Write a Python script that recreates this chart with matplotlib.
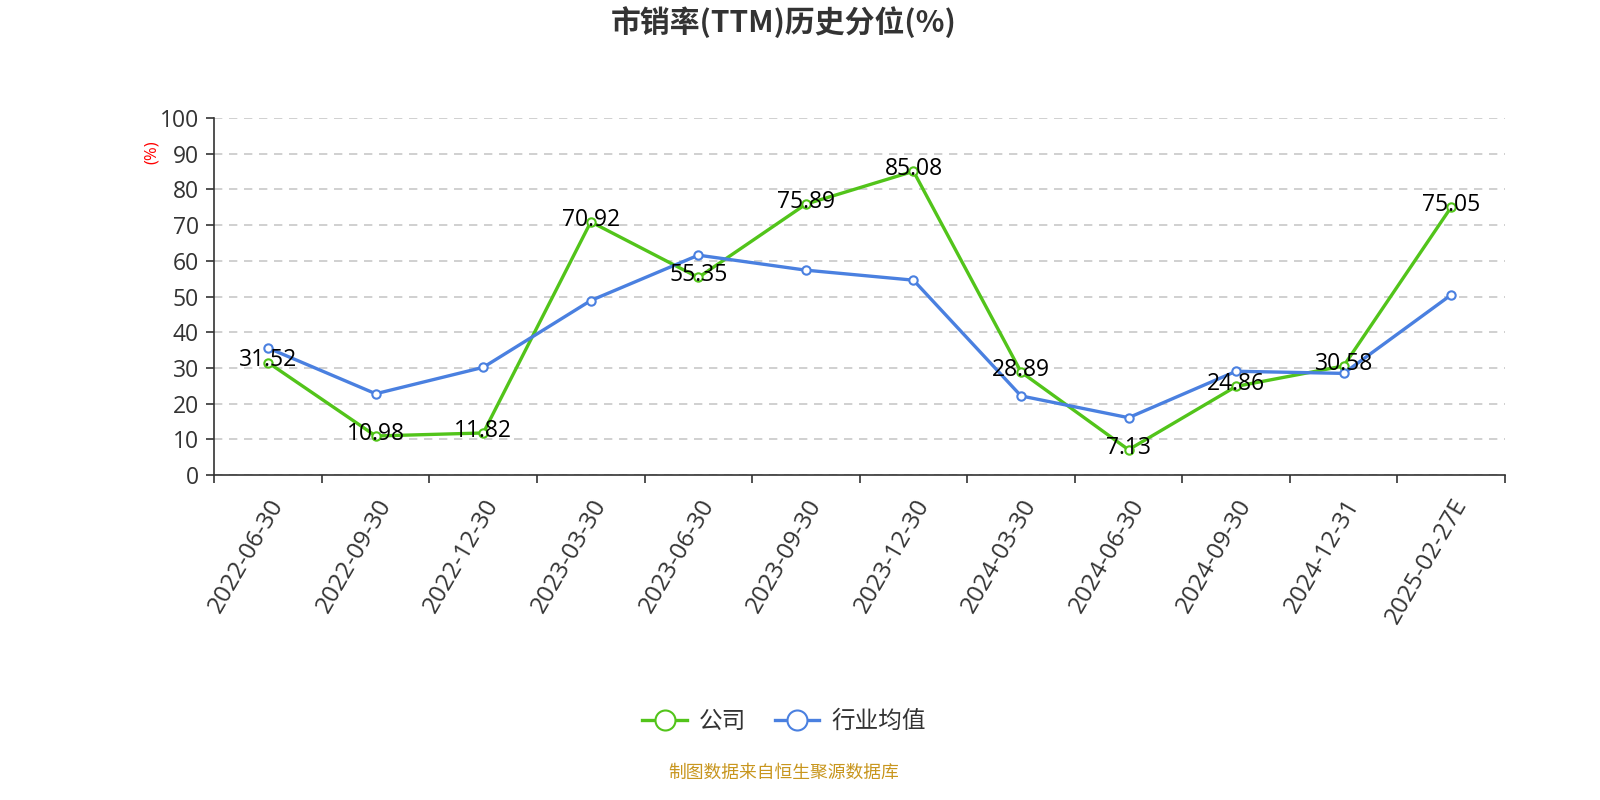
import matplotlib
matplotlib.use("Agg")
import matplotlib.pyplot as plt
import numpy as np

plt.rcParams['font.family'] = ['Open Sans', 'Noto Sans CJK SC', 'DejaVu Sans']
CJK = ['Noto Sans CJK SC', 'DejaVu Sans']

categories = ["2022-06-30", "2022-09-30", "2022-12-30", "2023-03-30", "2023-06-30",
              "2023-09-30", "2023-12-30", "2024-03-30", "2024-06-30", "2024-09-30",
              "2024-12-31", "2025-02-27E"]
company = [31.52, 10.98, 11.82, 70.92, 55.35, 75.89, 85.08, 28.89, 7.13, 24.86, 30.58, 75.05]
industry = [35.6, 22.8, 30.2, 48.9, 61.6, 57.4, 54.6, 22.2, 16.1, 29.1, 28.5, 50.5]
yticks = [0, 10, 20, 30, 40, 50, 60, 70, 80, 90, 100]

green = '#52c41a'
blue = '#4a80e0'
axis_c = '#333333'

fig = plt.figure(figsize=(16, 8), dpi=100)
ax = fig.add_axes([0.134, 0.406, 0.8066, 0.4465])
x = np.arange(len(categories))

ax.plot(x, company, color=green, lw=2.4, marker='o', ms=6, mfc='white',
        mec=green, mew=1.5, zorder=3, label='公司')
ax.plot(x, industry, color=blue, lw=2.4, marker='o', ms=6, mfc='white',
        mec=blue, mew=1.5, zorder=3, label='行业均值')

for xi, v in zip(x, company):
    ax.text(xi, v + 0.6, f"{v:.2f}", ha='center', va='center', fontsize=16.5,
            color='black', zorder=4)

ax.set_xlim(-0.5, len(categories) - 0.5)
ax.set_ylim(0, 100)
ax.set_yticks(yticks)
ax.set_yticklabels([str(t) for t in yticks], fontsize=16.5, color=axis_c)
ax.set_xticks(np.arange(-0.5, len(categories), 1.0))
ax.set_xticklabels([])
ax.set_xticks(x, minor=True)
ax.set_xticklabels(categories, minor=True, rotation=60, ha='right',
                   rotation_mode='anchor', fontsize=17.5, color=axis_c)
ax.tick_params(axis='x', which='minor', length=0, pad=14)
ax.tick_params(axis='x', which='major', length=6, width=1.2, color=axis_c)
ax.tick_params(axis='y', length=6, width=1.2, color=axis_c, pad=5)

ax.grid(axis='y', linestyle=(0, (5, 4)), color='#c8c8c8', lw=1.2)
ax.set_axisbelow(True)
for s in ['top', 'right']:
    ax.spines[s].set_visible(False)
for s in ['left', 'bottom']:
    ax.spines[s].set_color(axis_c)
    ax.spines[s].set_linewidth(1.2)

fig.text(0.095, 0.81, '(%)', color='red', fontsize=12, rotation=90,
         ha='center', va='center')

fig.text(0.49, 0.972, '市销率(TTM)历史分位(%)', ha='center', va='center',
         fontsize=21.5, fontweight='bold', color='#333333', family=CJK)

leg = fig.legend(loc='center', bbox_to_anchor=(0.49, 0.098), ncol=2, frameon=False,
                 prop={'family': CJK, 'size': 17}, handlelength=1.9, markerscale=2.4,
                 columnspacing=1.2, handletextpad=0.5)
for t in leg.get_texts():
    t.set_color('#333333')

fig.text(0.49, 0.034, '制图数据来自恒生聚源数据库', ha='center', va='center',
         fontsize=12.8, color='#c8961e', family=CJK)

fig.savefig('out.png', dpi=100)
